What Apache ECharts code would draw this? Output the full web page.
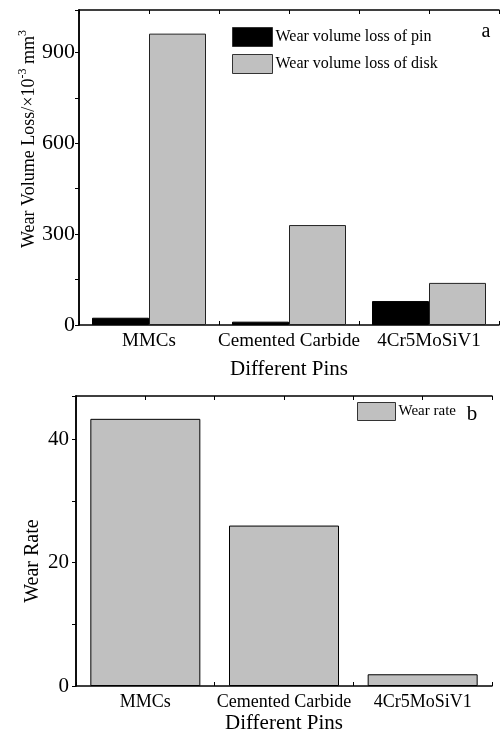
<!DOCTYPE html>
<html>
<head>
<meta charset="utf-8">
<script src="https://cdn.jsdelivr.net/npm/echarts@6/dist/echarts.min.js"></script>
<style>
html,body{margin:0;padding:0;background:#fff;}
#c{width:501px;height:735px;}
</style>
</head>
<body>
<div id="c"></div>
<script>
var categories = ['MMCs', 'Cemented Carbide', '4Cr5MoSiV1'];
var pinLoss = [24, 11, 79];
var diskLoss = [962, 330, 139];
var wearRate = [43.3, 26.0, 1.9];
var topTicks = { min: 0, max: 1040, interval: 300 };
var botTicks = { min: 0, max: 47, interval: 20 };

var FONT = 'Liberation Serif';
var chart = echarts.init(document.getElementById('c'));

function frameX(grid, pos, showLine) {
  return {
    type: 'value', gridIndex: grid, position: pos, min: 0, max: 6, interval: 1,
    axisLabel: { show: false }, splitLine: { show: false },
    axisLine: { show: showLine, onZero: false, lineStyle: { color: '#000', width: 1.5 } },
    axisTick: { show: true, inside: true, length: 4, lineStyle: { color: '#000', width: 1 } }
  };
}

var option = {
  backgroundColor: '#fff',
  animation: false,
  textStyle: { fontFamily: FONT, color: '#000' },
  grid: [
    { left: 79, top: 10, width: 420, height: 315 },
    { left: 76, top: 396, width: 416, height: 293 }
  ],
  legend: [
    {
      data: ['Wear volume loss of pin', 'Wear volume loss of disk'],
      orient: 'vertical', left: 227, top: 22, itemWidth: 40, itemHeight: 19, itemGap: 7,
      icon: 'rect',
      itemStyle: { borderWidth: 1, borderColor: '#333' },
      textStyle: { fontFamily: FONT, fontSize: 16, color: '#000', padding: [0, 0, 0, -2] }
    },
    {
      data: ['Wear rate'],
      left: 352, top: 397, itemWidth: 38, itemHeight: 18, icon: 'rect',
      itemStyle: { borderWidth: 1, borderColor: '#333' },
      textStyle: { fontFamily: FONT, fontSize: 15, color: '#000', padding: [0, 0, 0, -2] }
    }
  ],
  xAxis: [
    {
      type: 'category', gridIndex: 0, data: categories, position: 'bottom',
      axisLine: { lineStyle: { color: '#000', width: 1.5 } },
      axisTick: { show: false },
      axisLabel: { fontFamily: FONT, fontSize: 19, color: '#000', margin: 7, interval: 0 },
      name: 'Different Pins', nameLocation: 'middle', nameGap: 34,
      nameTextStyle: { fontFamily: FONT, fontSize: 21, color: '#000' }
    },
    frameX(0, 'bottom', false),
    frameX(0, 'top', true),
    {
      type: 'category', gridIndex: 1, data: categories, position: 'bottom',
      axisLine: { lineStyle: { color: '#000', width: 1.5 } },
      axisTick: { show: false },
      axisLabel: { fontFamily: FONT, fontSize: 18, color: '#000', margin: 7, interval: 0 },
      name: 'Different Pins', nameLocation: 'middle', nameGap: 27,
      nameTextStyle: { fontFamily: FONT, fontSize: 21, color: '#000' }
    },
    frameX(1, 'bottom', false),
    frameX(1, 'top', true)
  ],
  yAxis: [
    {
      type: 'value', gridIndex: 0, min: topTicks.min, max: topTicks.max, interval: topTicks.interval,
      axisLine: { show: true, lineStyle: { color: '#000', width: 1.5 } },
      axisTick: { show: true, inside: false, length: 4, lineStyle: { color: '#000' } },
      minorTick: { show: true, splitNumber: 2, length: 4, lineStyle: { color: '#000' } },
      splitLine: { show: false },
      axisLabel: { fontFamily: FONT, fontSize: 22, color: '#000', margin: 4, showMaxLabel: false }
    },
    {
      type: 'value', gridIndex: 0, position: 'right', min: topTicks.min, max: topTicks.max, interval: topTicks.interval,
      axisLine: { show: true, lineStyle: { color: '#000', width: 1.5 } },
      axisTick: { show: true, inside: true, length: 4, lineStyle: { color: '#000' } },
      minorTick: { show: true, splitNumber: 2, length: 3, lineStyle: { color: '#000' } },
      splitLine: { show: false }, axisLabel: { show: false }
    },
    {
      type: 'value', gridIndex: 1, min: botTicks.min, max: botTicks.max, interval: botTicks.interval,
      axisLine: { show: true, lineStyle: { color: '#000', width: 1.5 } },
      axisTick: { show: true, inside: false, length: 4, lineStyle: { color: '#000' } },
      minorTick: { show: true, splitNumber: 2, length: 4, lineStyle: { color: '#000' } },
      splitLine: { show: false },
      axisLabel: { fontFamily: FONT, fontSize: 21, color: '#000', margin: 7, showMaxLabel: false }
    },
    {
      type: 'value', gridIndex: 1, position: 'right', min: botTicks.min, max: botTicks.max, interval: botTicks.interval,
      axisLine: { show: true, lineStyle: { color: '#000', width: 1.5 } },
      axisTick: { show: true, inside: true, length: 4, lineStyle: { color: '#000' } },
      minorTick: { show: true, splitNumber: 2, length: 3, lineStyle: { color: '#000' } },
      splitLine: { show: false }, axisLabel: { show: false }
    }
  ],
  series: [
    {
      name: 'Wear volume loss of pin', type: 'bar', xAxisIndex: 0, yAxisIndex: 0,
      data: pinLoss, barWidth: 57, barGap: '0%',
      itemStyle: { color: '#000', borderColor: '#000', borderWidth: 1 }
    },
    {
      name: 'Wear volume loss of disk', type: 'bar', xAxisIndex: 0, yAxisIndex: 0,
      data: diskLoss, barWidth: 57, barGap: '0%',
      itemStyle: { color: '#c0c0c0', borderColor: '#222', borderWidth: 1 }
    },
    {
      name: 'Wear rate', type: 'bar', xAxisIndex: 3, yAxisIndex: 2,
      data: wearRate, barWidth: 110,
      itemStyle: { color: '#c0c0c0', borderColor: '#000', borderWidth: 1 }
    }
  ],
  graphic: [
    {
      type: 'text', x: 29, y: 139, rotation: Math.PI / 2,
      style: {
        text: 'Wear Volume Loss/×10{sup|-3} mm{sup|3}',
        font: '18px "Liberation Serif"', fill: '#000',
        align: 'center', verticalAlign: 'middle',
        rich: {
          sup: { fontSize: 12, fontFamily: FONT, fill: '#000', padding: [0, 0, 12, 0] }
        }
      }
    },
    {
      type: 'text', x: 33, y: 561, rotation: Math.PI / 2,
      style: {
        text: 'Wear Rate', font: '20px "Liberation Serif"', fill: '#000',
        align: 'center', verticalAlign: 'middle'
      }
    },
    {
      type: 'text', x: 486, y: 32,
      style: { text: 'a', font: '20px "Liberation Serif"', fill: '#000', align: 'center', verticalAlign: 'middle' }
    },
    {
      type: 'text', x: 472, y: 414,
      style: { text: 'b', font: '21px "Liberation Serif"', fill: '#000', align: 'center', verticalAlign: 'middle' }
    }
  ]
};
chart.setOption(option);
</script>
</body>
</html>
